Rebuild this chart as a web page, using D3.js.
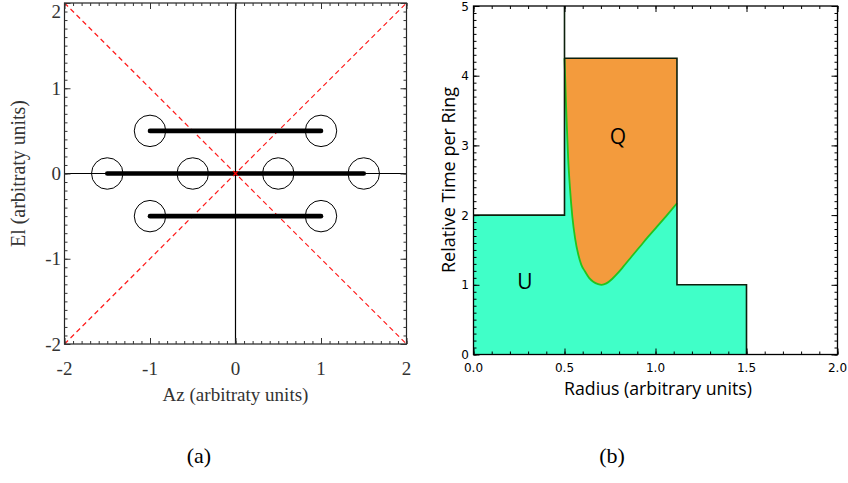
<!DOCTYPE html>
<html>
<head>
<meta charset="utf-8">
<script src="https://cdn.jsdelivr.net/npm/d3@7/dist/d3.min.js"></script>
<style>
  html, body { margin: 0; padding: 0; background: #fff; }
  svg { display: block; }
</style>
</head>
<body>
<script>
// ---------- Panel (a): scan pattern in Az / El ----------
const azTicks = [-2, -1, 0, 1, 2];
const elTicks = [-2, -1, 0, 1, 2];
// horizontal scan rows: elevation, start and end azimuth
const rowEl = [0.5, 0, -0.5];
const rowAzStart = [-1, -1.5, -1];
const rowAzEnd = [1, 1.5, 1];
// beam footprints (circle centres)
const beamAz = [-1, 1, -1.5, -0.5, 0.5, 1.5, -1, 1];
const beamEl = [0.5, 0.5, 0, 0, 0, 0, -0.5, -0.5];
const beamRadius = 0.184;
// dashed diagonals
const diagAz = [[-2, 2], [-2, 2]];
const diagEl = [[-2, 2], [2, -2]];

// ---------- Panel (b): relative time per ring ----------
const radiusTicks = [0, 0.5, 1.0, 1.5, 2.0];
const radiusTickLabels = ["0.0", "0.5", "1.0", "1.5", "2.0"];
const timeTicks = [0, 1, 2, 3, 4, 5];
// step outline of the total time per ring
const stepRadius = [0, 0.5, 1.118, 1.5];
const stepTime = [2, 4.25, 1];
// boundary between U and Q inside the middle ring
const qRadius = [0.500, 0.504, 0.508, 0.512, 0.520, 0.530, 0.543, 0.558, 0.576, 0.592, 0.613, 0.635, 0.658, 0.685, 0.704, 0.730, 0.760, 0.790, 0.823, 0.870, 0.915, 0.960, 1.007, 1.060, 1.118];
const qTime   = [4.25, 3.95, 3.62, 3.34, 2.82, 2.39, 1.98, 1.67, 1.43, 1.29, 1.19, 1.10, 1.045, 1.01, 1.00, 1.02, 1.08, 1.16, 1.26, 1.41, 1.55, 1.69, 1.83, 1.99, 2.17];

const W = 848, H = 483;
const svg = d3.select("body").append("svg").attr("width", W).attr("height", H);

const serif = "'Liberation Serif', 'Times New Roman', serif";
const sans = "'Open Sans', 'Liberation Sans', Arial, sans-serif";
const tickSans = "'DejaVu Sans', 'Liberation Sans', sans-serif";

// scale a text's font so that it spans the given width
function fitWidth(sel, width) {
  const n = sel.node();
  const fs = parseFloat(sel.attr("font-size"));
  const len = n.getComputedTextLength();
  if (len > 0) sel.attr("font-size", (fs * width / len).toFixed(2));
  return sel;
}

// ticks pointing inward on all four sides
function frameTicks(g, x, y, xMajor, xMinor, yMajor, yMinor, color) {
  const [x0, x1] = x.range();
  const [y0, y1] = y.range();
  const defs = [
    [d3.axisBottom(x), y0, xMajor, 6], [d3.axisBottom(x), y0, xMinor, 3],
    [d3.axisTop(x), y1, xMajor, 6], [d3.axisTop(x), y1, xMinor, 3]
  ];
  defs.forEach(([ax, pos, vals, len]) => {
    const a = g.append("g").attr("transform", `translate(0,${pos})`)
      .call(ax.tickValues(vals).tickSize(-len).tickFormat(""));
    a.select(".domain").remove();
    a.selectAll("line").attr("stroke", color);
  });
  const ydefs = [
    [d3.axisLeft(y), x0, yMajor, 6], [d3.axisLeft(y), x0, yMinor, 3],
    [d3.axisRight(y), x1, yMajor, 6], [d3.axisRight(y), x1, yMinor, 3]
  ];
  ydefs.forEach(([ax, pos, vals, len]) => {
    const a = g.append("g").attr("transform", `translate(${pos},0)`)
      .call(ax.tickValues(vals).tickSize(-len).tickFormat(""));
    a.select(".domain").remove();
    a.selectAll("line").attr("stroke", color);
  });
}

function minorValues(lo, hi, step) {
  const n = Math.round((hi - lo) / step);
  return d3.range(n + 1).map(i => +(lo + i * step).toFixed(4));
}

// ================= Panel (a) =================
{
  const x = d3.scaleLinear().domain([-2, 2]).range([64.5, 406.5]);
  const y = d3.scaleLinear().domain([-2, 2]).range([344, 3]);
  const g = svg.append("g");

  // dashed red diagonals
  diagAz.forEach((az, i) => {
    g.append("line")
      .attr("x1", x(az[0])).attr("y1", y(diagEl[i][0]))
      .attr("x2", x(az[1])).attr("y2", y(diagEl[i][1]))
      .attr("stroke", "#ff1a1a").attr("stroke-width", 1.2)
      .attr("stroke-dasharray", "5,3.5");
  });

  // zero lines
  g.append("line").attr("x1", x(0)).attr("x2", x(0)).attr("y1", y(-2)).attr("y2", y(2))
    .attr("stroke", "#000").attr("stroke-width", 1.2);
  g.append("line").attr("x1", x(-2)).attr("x2", x(2)).attr("y1", y(0)).attr("y2", y(0))
    .attr("stroke", "#000").attr("stroke-width", 1.2);

  // scan rows
  g.selectAll("line.row").data(rowEl).join("line").attr("class", "row")
    .attr("x1", (d, i) => x(rowAzStart[i])).attr("x2", (d, i) => x(rowAzEnd[i]))
    .attr("y1", d => y(d)).attr("y2", d => y(d))
    .attr("stroke", "#000").attr("stroke-width", 4.6).attr("stroke-linecap", "round");

  // beam circles
  const rPx = x(beamRadius) - x(0);
  g.selectAll("circle.beam").data(beamAz).join("circle").attr("class", "beam")
    .attr("cx", d => x(d)).attr("cy", (d, i) => y(beamEl[i])).attr("r", rPx)
    .attr("fill", "none").attr("stroke", "#000").attr("stroke-width", 1);

  // centre marker
  const cx = x(0), cy = y(0);
  g.append("path").attr("d", `M${cx-2.2},${cy-2.2}L${cx+2.2},${cy+2.2}M${cx-2.2},${cy+2.2}L${cx+2.2},${cy-2.2}`)
    .attr("stroke", "#ff0000").attr("stroke-width", 1.3);

  // frame
  g.append("rect").attr("x", x(-2)).attr("y", y(2)).attr("width", x(2) - x(-2)).attr("height", y(-2) - y(2))
    .attr("fill", "none").attr("stroke", "#222").attr("stroke-width", 1.2);
  frameTicks(g, x, y, azTicks, minorValues(-2, 2, 0.1), elTicks, minorValues(-2, 2, 0.1), "#333");

  // tick labels
  g.selectAll("text.xt").data(azTicks).join("text").attr("class", "xt")
    .attr("x", d => x(d)).attr("y", 375).attr("text-anchor", "middle")
    .attr("font-family", serif).attr("font-size", 19).attr("fill", "#333")
    .text(d => d);
  g.selectAll("text.yt").data(elTicks).join("text").attr("class", "yt")
    .attr("x", 61).attr("y", d => Math.max(y(d) + 6.5, 18)).attr("text-anchor", "end")
    .attr("font-family", serif).attr("font-size", 19).attr("fill", "#333")
    .text(d => d);

  fitWidth(g.append("text").attr("x", x(0)).attr("y", 401).attr("text-anchor", "middle")
    .attr("font-family", serif).attr("font-size", 18).attr("fill", "#333")
    .text("Az (arbitraty units)"), 146);
  fitWidth(g.append("text").attr("transform", `translate(25,${y(0)}) rotate(-90)`).attr("text-anchor", "middle")
    .attr("font-family", serif).attr("font-size", 18).attr("fill", "#333")
    .text("El (arbitraty units)"), 147);
}

// ================= Panel (b) =================
{
  const x = d3.scaleLinear().domain([0, 2]).range([473.5, 837.5]);
  const y = d3.scaleLinear().domain([0, 5]).range([354.5, 6]);
  const g = svg.append("g");

  // total time per ring (U fill below the steps)
  const stepPts = [];
  stepTime.forEach((t, i) => {
    stepPts.push([stepRadius[i], t], [stepRadius[i + 1], t]);
  });
  const stepArea = d3.area().x(d => x(d[0])).y0(y(0)).y1(d => y(d[1]));
  g.append("path").datum(stepPts).attr("d", stepArea).attr("fill", "#40ffc8");

  // Q region between the boundary curve and the ring top
  const qPts = qRadius.map((r, i) => [r, qTime[i]]);
  const qTop = stepTime[1];
  const qArea = d3.area().x(d => x(d[0])).y0(d => y(d[1])).y1(y(qTop)).curve(d3.curveMonotoneX);
  g.append("path").datum(qPts).attr("d", qArea).attr("fill", "#f39b3d");

  const qLine = d3.line().x(d => x(d[0])).y(d => y(d[1])).curve(d3.curveMonotoneX);
  g.append("path").datum(qPts).attr("d", qLine)
    .attr("fill", "none").attr("stroke", "#22c41e").attr("stroke-width", 1.8);

  // step outline
  const outline = [
    [stepRadius[0], stepTime[0]], [stepRadius[1], stepTime[0]], [stepRadius[1], 5]
  ];
  const outline2 = [
    [stepRadius[1], stepTime[1]], [stepRadius[2], stepTime[1]], [stepRadius[2], stepTime[2]],
    [stepRadius[3], stepTime[2]], [stepRadius[3], 0]
  ];
  const ol = d3.line().x(d => x(d[0])).y(d => y(d[1]));
  [outline, outline2].forEach(pts => {
    g.append("path").datum(pts).attr("d", ol).attr("fill", "none")
      .attr("stroke", "#0d200d").attr("stroke-width", 1.6);
  });

  // frame
  g.append("rect").attr("x", x(0)).attr("y", y(5)).attr("width", x(2) - x(0)).attr("height", y(0) - y(5))
    .attr("fill", "none").attr("stroke", "#000").attr("stroke-width", 1.3);
  frameTicks(g, x, y, radiusTicks, minorValues(0, 2, 0.1), timeTicks, minorValues(0, 5, 0.1), "#000");

  g.selectAll("text.xt").data(radiusTicks).join("text").attr("class", "xt")
    .attr("x", d => x(d)).attr("y", 371.5).attr("text-anchor", "middle")
    .attr("font-family", tickSans).attr("font-size", 12).attr("fill", "#000")
    .text((d, i) => radiusTickLabels[i]);
  g.selectAll("text.yt").data(timeTicks).join("text").attr("class", "yt")
    .attr("x", 469).attr("y", d => y(d) + 4.5).attr("text-anchor", "end")
    .attr("font-family", tickSans).attr("font-size", 12).attr("fill", "#000")
    .text(d => d);

  fitWidth(g.append("text").attr("x", 658).attr("y", 395).attr("text-anchor", "middle")
    .attr("font-family", sans).attr("font-size", 17).attr("fill", "#000")
    .text("Radius (arbitrary units)"), 188);
  fitWidth(g.append("text").attr("transform", `translate(455,180) rotate(-90)`).attr("text-anchor", "middle")
    .attr("font-family", sans).attr("font-size", 17).attr("fill", "#000")
    .text("Relative Time per Ring"), 186);

  g.append("text").attr("x", 618).attr("y", 144).attr("text-anchor", "middle")
    .attr("font-family", sans).attr("font-size", 21).attr("fill", "#000").text("Q");
  g.append("text").attr("x", 525).attr("y", 289).attr("text-anchor", "middle")
    .attr("font-family", sans).attr("font-size", 21).attr("fill", "#000").text("U");
}

// captions
svg.append("text").attr("x", 199).attr("y", 463).attr("text-anchor", "middle")
  .attr("font-family", serif).attr("font-size", 22).attr("fill", "#000").text("(a)");
svg.append("text").attr("x", 612).attr("y", 463).attr("text-anchor", "middle")
  .attr("font-family", serif).attr("font-size", 22).attr("fill", "#000").text("(b)");
</script>
</body>
</html>
